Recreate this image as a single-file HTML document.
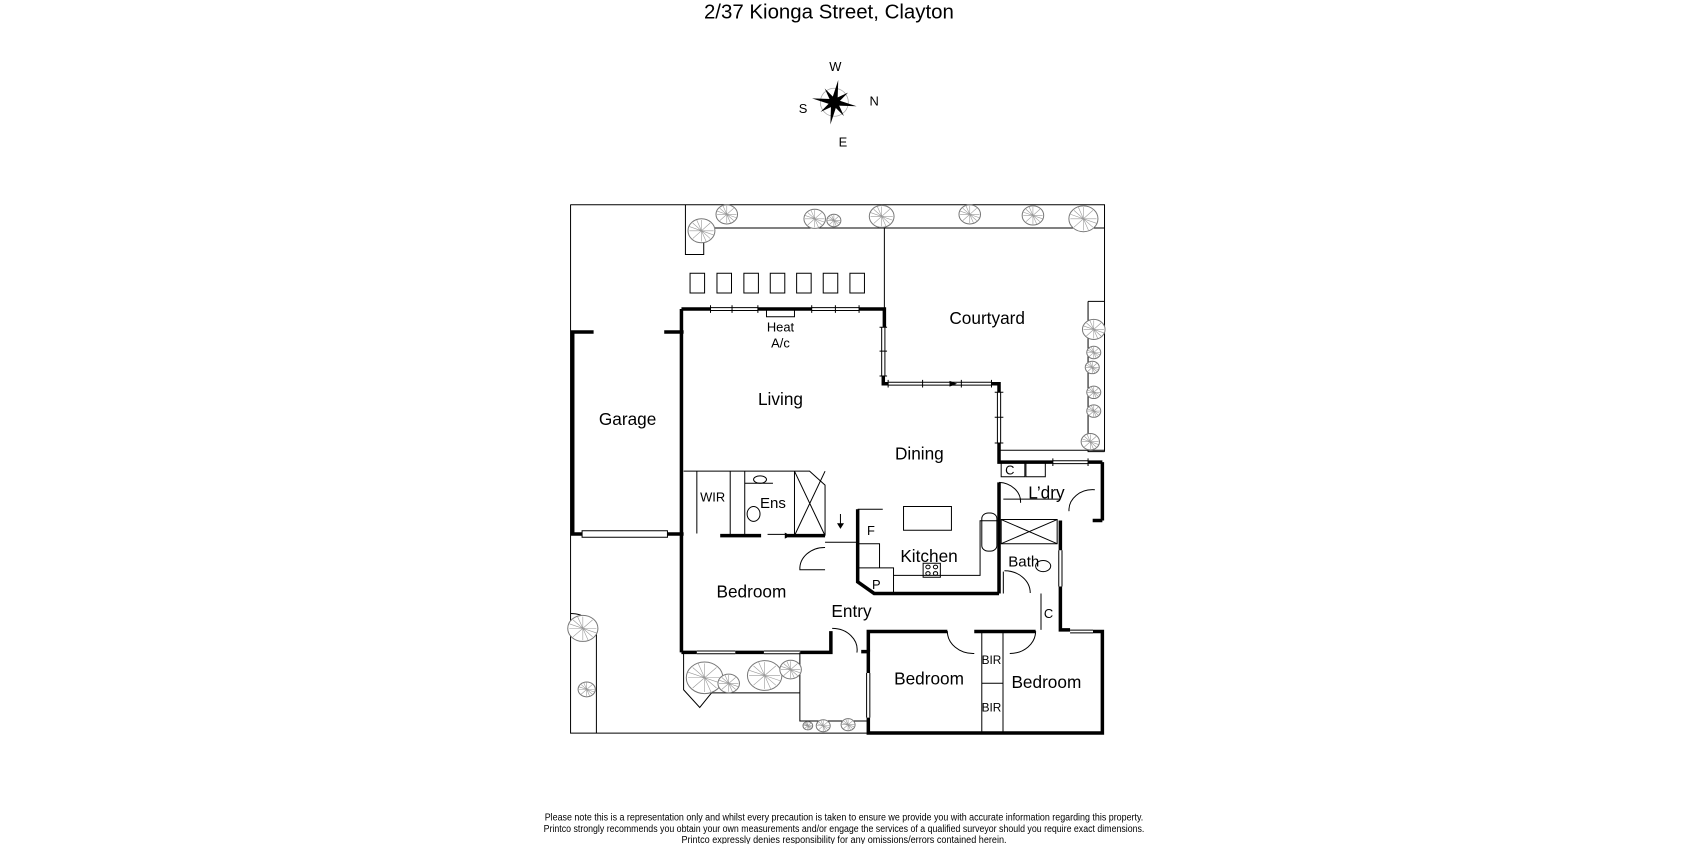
<!DOCTYPE html>
<html><head><meta charset="utf-8"><style>
html,body{margin:0;padding:0;background:#fff;}
svg{display:block;}
text{font-family:"Liberation Sans Narrow","Liberation Sans",sans-serif;fill:#000;}
path,rect,circle,ellipse{vector-effect:non-scaling-stroke;}
</style></head><body>
<svg width="1688" height="844" viewBox="0 0 1568 784" xmlns="http://www.w3.org/2000/svg">
<defs>
<g id="tr">
<circle r="1" fill="#fff" stroke="#777" stroke-width="1" vector-effect="non-scaling-stroke"/>
<path d="M-0.9 0H0.9M0 -0.9V0.9M-0.65 -0.65L0.65 0.65M-0.65 0.65L0.65 -0.65M-0.35 -0.9L0.35 0.9M-0.9 -0.35L0.9 0.35" stroke="#999" stroke-width="0.6" vector-effect="non-scaling-stroke"/>
</g>
</defs>
<text x="770" y="17" font-size="19" text-anchor="middle">2/37 Kionga Street, Clayton</text>
<g transform="translate(775,95) rotate(10)">
<circle r="13" fill="none" stroke="#aaa" stroke-width="0.8"/>
<path d="M0 -21 L3 0 L0 21 L-3 0Z M-21 0 L0 -3 L21 0 L0 3Z" fill="#000"/>
<path d="M-11 -11 L2 -2 L11 11 L-2 2Z M11 -11 L2 2 L-11 11 L-2 -2Z" fill="#000"/>
</g>
<text x="776" y="66" font-size="12" text-anchor="middle">W</text>
<text x="812" y="98" font-size="12" text-anchor="middle">N</text>
<text x="746" y="105" font-size="12" text-anchor="middle">S</text>
<text x="783" y="136" font-size="12" text-anchor="middle">E</text>

<!-- spanning, final coords -->
<g fill="none" stroke="#000">
<path d="M530 190V681H806" stroke-width="1"/>
<path d="M633 287V606M532 308.4V496H540.7M620 496H635M1024 429.3V483.5" stroke-width="3.5"/>
</g>

<!-- GROUP A (upper) -->
<g transform="translate(0,190) scale(1,0.889) translate(0,-191.8)">
<g fill="none" stroke="#000" stroke-width="1">
<path d="M530 192H1026V450"/>
<path d="M636.7 192V244H653.7V216.3H1026"/>
<path d="M821.5 216.3V301"/>
<path d="M1010.7 293H1026M1010.7 293V450H1026"/>
<path d="M928 448.5H1026"/>
<rect x="641" y="263.6" width="13.5" height="20.6"/><rect x="666" y="263.6" width="13.5" height="20.6"/><rect x="691" y="263.6" width="13.5" height="20.6"/><rect x="715.5" y="263.6" width="13.5" height="20.6"/><rect x="740" y="263.6" width="13.5" height="20.6"/><rect x="764.7" y="263.6" width="13.5" height="20.6"/><rect x="789.5" y="263.6" width="13.5" height="20.6"/>
<rect x="712" y="301" width="26" height="8"/>
<path d="M660 299.5H704M660 302.5H704M680 297V305M754 299.5H798M754 302.5H798M776 297V305M660 297V305M704 297V305M754 297V305M798 297V305"/>
<path d="M819 320V371M822 320V371M817 320H824M817 371H824M817 345H824"/>
<path d="M825 377.5H921M825 380.5H921M825 375V383M921 375V383M857 375V383M893 375V383"/>
<path d="M926.5 388V441M929.5 388V441M924 388H932M924 441H932M924 414H932"/>
<path d="M978 459.5H1010.7M978 462.5H1010.7M978 457V465M1010.7 457V465"/>
</g>
<g fill="none" stroke="#000" stroke-width="3.5">
<path d="M530 325H551.4M617 325H635"/>
<path d="M660 301H633"/>
<path d="M704 301H754M798 301H821.5V320M820.5 371V379H825M921 379H928V388M928 441V461H978M1010.7 461H1024"/>
</g>
<path d="M882 376L889 379L882 382Z" fill="#000"/>
<use href="#tr" transform="translate(675.1,202.1) scale(10)"/>
<use href="#tr" transform="translate(651.6,219.2) scale(12.5)"/>
<use href="#tr" transform="translate(756.8,206.7) scale(10)"/>
<use href="#tr" transform="translate(774.6,208.5) scale(6.5)"/>
<use href="#tr" transform="translate(819,204.2) scale(11.5)"/>
<use href="#tr" transform="translate(900.8,202.1) scale(10)"/>
<use href="#tr" transform="translate(959.5,203.2) scale(10)"/>
<use href="#tr" transform="translate(1006.4,206.7) scale(13.5)"/>
<use href="#tr" transform="translate(1016,322.3) scale(10.5)"/>
<use href="#tr" transform="translate(1016,346.4) scale(6.5)"/>
<use href="#tr" transform="translate(1014.6,362) scale(6.5)"/>
<use href="#tr" transform="translate(1016,388) scale(6.5)"/>
<use href="#tr" transform="translate(1016,407.6) scale(6.5)"/>
<use href="#tr" transform="translate(1012.8,439.6) scale(8.5)"/>
</g>

<!-- GROUP B (lower) -->
<g transform="translate(0,496) scale(1,0.864) translate(0,-505.5)">
<g fill="none" stroke="#000" stroke-width="1">
<path d="M554 608.6V719.5"/>
<path d="M530 591 A24 24 0 0 1 554 615"/>
<path d="M540.7 502V509H620V502Z"/>
<path d="M647.3 631.3H683M647.3 634.3H683M709.6 631.3H743.3M709.6 634.3H743.3"/>
<path d="M805 655V703M808 655V703"/>
<path d="M994 608.9H1015.3M994 611.9H1015.3"/>
<path d="M983.5 523V562M986.5 523V562"/>
<path d="M635 438H752L766.4 453V507.3"/>
<path d="M647.3 438V505M678.3 438V507.3M691.8 438V507.3M738 438V507.3"/>
<path d="M738 438L766.4 507.3M766.4 438L738 507.3"/>
<path d="M691.8 451H718"/>
<ellipse cx="706" cy="447" rx="6" ry="4"/>
<ellipse cx="700" cy="484" rx="6" ry="8"/>
<path d="M713 506H731"/>
<path d="M766.4 514.4H796.7M780.7 484V498"/>
<path d="M796.7 479H820M796.7 516H817V542H796.7M796.7 542H830V569.5M830 550H910.4V491.3H928"/>
<rect x="857.5" y="537" width="16" height="15"/>
<circle cx="862" cy="541" r="2"/><circle cx="869" cy="541" r="2"/><circle cx="862" cy="548" r="2"/><circle cx="869" cy="548" r="2"/>
<rect x="839.3" y="476" width="44.5" height="25.5"/>
<rect x="912" y="483" width="14" height="41" rx="6"/>
<rect x="930" y="490" width="52" height="26"/>
<path d="M930 490L982 516M982 490L930 516"/>
<path d="M932 468H985M932 569.5V546"/>
<rect x="930" y="427" width="22" height="17"/><rect x="953" y="427" width="18" height="17"/>
<ellipse cx="969" cy="540" rx="7" ry="6"/>
<path d="M967 569.5V608.6"/>
<path d="M912 610.4V719.5M931.7 610.4V719.5M912 666H931.7"/>
<path d="M743 632.8V706.6H806M661 676.3H743"/>
<path d="M635 632.8V673L650 692L661 676.3"/>
<path d="M766.4 520A23 23 0 0 0 743 544H766.4"/>
<path d="M928 450A21 21 0 0 1 948 472"/>
<path d="M1017 458A22 22 0 0 0 993 481"/>
<path d="M933 545A24 24 0 0 1 957 569"/>
<path d="M880 610A24 24 0 0 0 905 634"/>
<path d="M962 610A24 24 0 0 1 938 634"/>
<path d="M773 607A23 23 0 0 1 796 633"/>
</g>
<g fill="none" stroke="#000" stroke-width="3.5">
<path d="M633 632.8H647.3M683 632.8H709.6M743.3 632.8H771.8V610"/>
<path d="M928 450V491M928 491V569.5M985 491V523M985 562V608.6H994M1015.3 610.4H1024V719.5H806.6V703M806.6 655V632H800"/>
<path d="M806.6 632V610.4H880M905 610.4H962M1015 491H1024"/>
<path d="M796.7 479V557L812 569.5H928"/>
<path d="M669 507.3H707M732 507.3H766.4"/>
</g>
<path d="M729 504L735 507.3L729 510.5Z" fill="#000"/>
<path d="M777.5 494L780.7 500L784 494Z" fill="#000"/>
<use href="#tr" transform="translate(541.4,607) scale(14)"/>
<use href="#tr" transform="translate(545,672.6) scale(8)"/>
<use href="#tr" transform="translate(654.5,660.1) scale(17)"/>
<use href="#tr" transform="translate(676.9,666.2) scale(10)"/>
<use href="#tr" transform="translate(710.3,657.7) scale(16)"/>
<use href="#tr" transform="translate(734.4,651.3) scale(10)"/>
<use href="#tr" transform="translate(750.4,711.7) scale(4.5)"/>
<use href="#tr" transform="translate(764.7,711.7) scale(6.5)"/>
<use href="#tr" transform="translate(787.8,710.6) scale(6.5)"/>
</g>

<g font-size="16" text-anchor="middle">
<text x="583" y="395">Garage</text>
<text x="725" y="376">Living</text>
<text x="917" y="301">Courtyard</text>
<text x="854" y="427">Dining</text>
<text x="863" y="522">Kitchen</text>
<text x="698" y="555">Bedroom</text>
<text x="791" y="573">Entry</text>
<text x="863" y="636">Bedroom</text>
<text x="972" y="639">Bedroom</text>
<text x="972" y="463">L’dry</text>
</g>
<g font-size="14" text-anchor="middle">
<text x="718" y="472">Ens</text>
<text x="951" y="526">Bath</text>
</g>
<g font-size="12" text-anchor="middle">
<text x="725" y="308">Heat</text>
<text x="725" y="323">A/c</text>
<text x="662" y="466">WIR</text>
<text x="809" y="497">F</text>
<text x="814" y="547">P</text>
<text x="938" y="441">C</text>
<text x="974" y="574">C</text>
<text x="921" y="617" font-size="11">BIR</text>
<text x="921" y="661" font-size="11">BIR</text>
</g>
<g font-size="9" text-anchor="middle">
<text x="784" y="762" textLength="556" lengthAdjust="spacingAndGlyphs">Please note this is a representation only and whilst every precaution is taken to ensure we provide you with accurate information regarding this property.</text>
<text x="784" y="773" textLength="558" lengthAdjust="spacingAndGlyphs">Printco strongly recommends you obtain your own measurements and/or engage the services of a qualified surveyor should you require exact dimensions.</text>
<text x="784" y="783" textLength="302" lengthAdjust="spacingAndGlyphs">Printco expressly denies responsibility for any omissions/errors contained herein.</text>
</g>
</svg>
</body></html>
